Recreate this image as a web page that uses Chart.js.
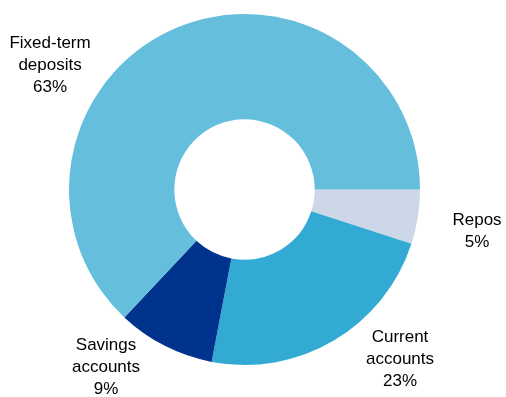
<!DOCTYPE html>
<html>
<head>
<meta charset="utf-8">
<script src="https://cdn.jsdelivr.net/npm/chart.js@4/dist/chart.umd.min.js"></script>
<style>
  html, body { margin: 0; padding: 0; background: #ffffff; }
  #wrap { width: 506px; height: 397px; }
</style>
</head>
<body>
<div id="wrap"><canvas id="c" width="506" height="397"></canvas></div>
<script>
// Funding breakdown, shares in percent (clockwise from 3 o'clock)
const categories = ['Repos', 'Current accounts', 'Savings accounts', 'Fixed-term deposits'];
const labelLines = [['Repos'], ['Current', 'accounts'], ['Savings', 'accounts'], ['Fixed-term', 'deposits']];
const shares = [5, 23, 9, 63];
const colors = ['#CCD7E8', '#33AAD3', '#00338D', '#65BEDC'];

// Where each label block sits, as offsets from the doughnut centre in units of its outer radius
const labelPlacement = [
  { dx: 1.325, dy: 0.236 },
  { dx: 0.886, dy: 0.969 },
  { dx: -0.789, dy: 1.011 },
  { dx: -1.108, dy: -0.705 }
];

const outsideLabels = {
  id: 'outsideLabels',
  afterDatasetsDraw(chart) {
    const ctx = chart.ctx;
    const meta = chart.getDatasetMeta(0);
    const data = chart.data.datasets[0].data;
    const lineH = 22;
    ctx.save();
    ctx.font = '17px "Liberation Sans", Arial, sans-serif';
    ctx.fillStyle = '#000000';
    ctx.textAlign = 'center';
    ctx.textBaseline = 'middle';
    meta.data.forEach((arc, i) => {
      const p = labelPlacement[i];
      const cx = arc.x + p.dx * arc.outerRadius;
      const cy = arc.y + p.dy * arc.outerRadius;
      const lines = labelLines[i].concat([data[i] + '%']);
      const top = cy - (lines.length - 1) * lineH / 2;
      lines.forEach((t, k) => ctx.fillText(t, cx, top + k * lineH));
    });
    ctx.restore();
  }
};

new Chart(document.getElementById('c'), {
  type: 'doughnut',
  data: {
    labels: categories,
    datasets: [{
      data: shares,
      backgroundColor: colors,
      borderWidth: 0
    }]
  },
  options: {
    responsive: false,
    animation: false,
    devicePixelRatio: 1,
    rotation: 90,
    cutout: '40%',
    layout: { padding: { top: 14, bottom: 32, left: 69, right: 86 } },
    plugins: {
      legend: { display: false },
      tooltip: { enabled: false }
    }
  },
  plugins: [outsideLabels]
});
</script>
</body>
</html>
